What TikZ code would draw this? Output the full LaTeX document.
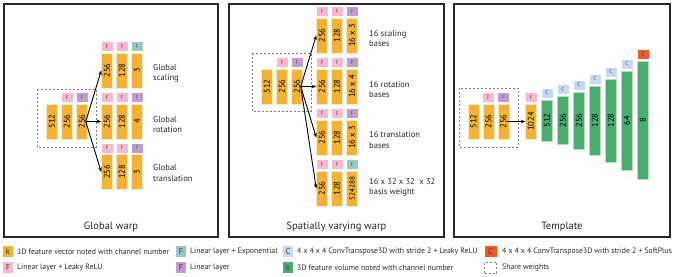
\documentclass[tikz,border=0pt]{standalone}
\usepackage{fontspec}
\setmainfont{PT Sans}
\usepackage{xcolor}
\usepackage{tikz}
\usetikzlibrary{arrows.meta, positioning}

\definecolor{barorange}{RGB}{244,178,52}
\definecolor{volgreen}{RGB}{74,172,110}
\definecolor{tagpink}{RGB}{248,184,212}
\definecolor{tagpurple}{RGB}{194,156,206}
\definecolor{tagteal}{RGB}{152,200,202}
\definecolor{tagblue}{RGB}{198,218,240}
\definecolor{tagred}{RGB}{240,88,40}

\newcommand{\vlab}[1]{\rotatebox{90}{#1}}

\begin{document}
\begin{tikzpicture}[x=1pt, y=-1pt,
    panel/.style={draw=black!85, line width=1.6pt},
    bar/.style={rectangle, fill=barorange, draw=white!70!barorange, line width=0.5pt,
                minimum width=11pt, minimum height=35pt, inner sep=0pt,
                font=\fontsize{8.5}{8.5}\selectfont},
    vol/.style={rectangle, fill=volgreen, draw=white!60!volgreen, line width=0.5pt,
                minimum width=11pt, inner sep=0pt, font=\fontsize{8.5}{8.5}\selectfont},
    tag/.style={rectangle, minimum width=11pt, minimum height=9pt, inner sep=0pt,
                font=\fontsize{5.5}{5.5}\selectfont, text=black!65},
    tagF/.style={tag, fill=tagpink},
    tagP/.style={tag, fill=tagpurple},
    tagT/.style={tag, fill=tagteal},
    tagC/.style={tag, fill=tagblue},
    tagR/.style={tag, fill=tagred, text=black!80},
    share/.style={draw=black!50, dash pattern=on 2pt off 2pt, line width=0.9pt},
    arrow/.style={-{Stealth[length=4.5pt, width=3.5pt]}, line width=0.9pt},
    note/.style={anchor=west, align=left, inner sep=0pt, text=black!85,
                 font=\fontsize{8.5}{10.5}\selectfont},
    title/.style={font=\fontsize{10.5}{10.5}\selectfont, text=black!85},
    swatch/.style={rectangle, minimum width=10pt, minimum height=11pt, inner sep=0pt,
                   font=\fontsize{8.5}{8.5}\selectfont, text=black!75},
    legend/.style={anchor=west, inner sep=0pt, text=black!85,
                   font=\fontsize{7.8}{7.8}\selectfont}
]
    \useasboundingbox (0,0) rectangle (675,276);

    % ── Panels ──
    \draw[panel] (4,4)   rectangle (218,237);
    \draw[panel] (229,4) rectangle (444,237);
    \draw[panel] (454,4) rectangle (670,237);
    \node[title] (gwtitle) at (111,227)   {Global warp};
    \node[title] (svtitle) at (336.5,227) {Spatially varying warp};
    \node[title] (tmtitle) at (562,227)   {Template};

    % ── Global warp: shared layers ──
    \node[bar] (gw1) at (52,121.5) {\vlab{512}};
    \node[bar] (gw2) at (67,121.5) {\vlab{256}};
    \node[bar] (gw3) at (82,121.5) {\vlab{256}};
    \node[tagF, above=1.5pt of gw2] (gw2t) {F};
    \node[tagP, above=1.5pt of gw3] (gw3t) {F};
    \draw[share] (37,89) rectangle (96,147);

    % scaling
    \node[bar] (gs1) at (107,70.5) {\vlab{256}};
    \node[bar] (gs2) at (122,70.5) {\vlab{128}};
    \node[bar] (gs3) at (137,70.5) {\vlab{3}};
    \node[tagF, above=1.5pt of gs1] (gs1t) {F};
    \node[tagF, above=1.5pt of gs2] (gs2t) {F};
    \node[tagT, above=1.5pt of gs3] (gs3t) {F};
    \node[note] (gsl) at (153,73.5) {Global\\scaling};

    % rotation
    \node[bar] (gr1) at (107,121.5) {\vlab{256}};
    \node[bar] (gr2) at (122,121.5) {\vlab{128}};
    \node[bar] (gr3) at (137,121.5) {\vlab{4}};
    \node[tagF, above=1.5pt of gr1] (gr1t) {F};
    \node[tagF, above=1.5pt of gr2] (gr2t) {F};
    \node[tagP, above=1.5pt of gr3] (gr3t) {F};
    \node[note] (grl) at (153,124.5) {Global\\rotation};

    % translation
    \node[bar] (gt1) at (107,172) {\vlab{256}};
    \node[bar] (gt2) at (122,172) {\vlab{128}};
    \node[bar] (gt3) at (137,172) {\vlab{3}};
    \node[tagF, above=1.5pt of gt1] (gt1t) {F};
    \node[tagF, above=1.5pt of gt2] (gt2t) {F};
    \node[tagP, above=1.5pt of gt3] (gt3t) {F};
    \node[note] (gtl) at (153,173) {Global\\translation};

    \draw[arrow] ([xshift=-2pt]gw3.east) -- (gs1.west);
    \draw[arrow] ([xshift=-2pt]gw3.east) -- (gr1.west);
    \draw[arrow] ([xshift=-2pt]gw3.east) -- (gt1.west);

    % ── Spatially varying warp: shared layers ──
    \node[bar] (sw1) at (267,86.5) {\vlab{512}};
    \node[bar] (sw2) at (282,86.5) {\vlab{256}};
    \node[bar] (sw3) at (297,86.5) {\vlab{256}};
    \node[tagF, above=1.5pt of sw2] (sw2t) {F};
    \node[tagP, above=1.5pt of sw3] (sw3t) {F};
    \draw[share] (252,53) rectangle (311,111);

    % scaling bases
    \node[bar] (ss1) at (322,35.5) {\vlab{256}};
    \node[bar] (ss2) at (337,35.5) {\vlab{128}};
    \node[bar] (ss3) at (352,35.5) {\vlab{16 x 3}};
    \node[tagF, above=1.5pt of ss1] (ss1t) {F};
    \node[tagF, above=1.5pt of ss2] (ss2t) {F};
    \node[tagP, above=1.5pt of ss3] (ss3t) {F};
    \node[note] (ssl) at (369,38.5) {16 scaling\\bases};

    % rotation bases
    \node[bar] (sr1) at (322,86.5) {\vlab{256}};
    \node[bar] (sr2) at (337,86.5) {\vlab{128}};
    \node[bar] (sr3) at (352,86.5) {\vlab{16 x 4}};
    \node[tagF, above=1.5pt of sr1] (sr1t) {F};
    \node[tagF, above=1.5pt of sr2] (sr2t) {F};
    \node[tagP, above=1.5pt of sr3] (sr3t) {F};
    \node[note] (srl) at (369,89.5) {16 rotation\\bases};

    % translation bases
    \node[bar] (st1) at (322,137.5) {\vlab{256}};
    \node[bar] (st2) at (337,137.5) {\vlab{128}};
    \node[bar] (st3) at (352,137.5) {\vlab{16 x 3}};
    \node[tagF, above=1.5pt of st1] (st1t) {F};
    \node[tagF, above=1.5pt of st2] (st2t) {F};
    \node[tagP, above=1.5pt of st3] (st3t) {F};
    \node[note] (stl) at (369,140) {16 translation\\bases};

    % basis weight
    \node[bar] (sb1) at (322,188.5) {\vlab{256}};
    \node[bar] (sb2) at (337,188.5) {\vlab{128}};
    \node[bar, font=\fontsize{7.2}{7.2}\selectfont] (sb3) at (352,188.5) {\vlab{524288}};
    \node[tagF, above=1.5pt of sb1] (sb1t) {F};
    \node[tagF, above=1.5pt of sb2] (sb2t) {F};
    \node[tagT, above=1.5pt of sb3] (sb3t) {F};
    \node[note] (sbl) at (369,187.5) {16 x 32 x 32 \ x 32\\basis weight};

    \draw[arrow] ([xshift=-2pt]sw3.east) -- (ss1.west);
    \draw[arrow] ([xshift=-2pt]sw3.east) -- (sr1.west);
    \draw[arrow] ([xshift=-2pt]sw3.east) -- (st1.west);
    \draw[arrow] ([xshift=-2pt]sw3.east) -- (sb1.west);

    % ── Template: shared layers ──
    \node[bar] (tp1) at (473.5,121.5) {\vlab{512}};
    \node[bar] (tp2) at (488.5,121.5) {\vlab{256}};
    \node[bar] (tp3) at (503.5,121.5) {\vlab{256}};
    \node[tagF, above=1.5pt of tp2] (tp2t) {F};
    \node[tagP, above=1.5pt of tp3] (tp3t) {F};
    \draw[share] (459,88) rectangle (518,147);

    \node[bar] (tp4) at (531,121.5) {\vlab{1024}};
    \node[tagF, above=1.5pt of tp4] (tp4t) {F};
    \draw[arrow] ([xshift=-2pt]tp3.east) -- (tp4.west);

    % volumes
    \node[vol, minimum height=41pt]  (tv1) at (547,120.5) {\vlab{512}};
    \node[vol, minimum height=48pt]  (tv2) at (563,120.5) {\vlab{256}};
    \node[vol, minimum height=57pt]  (tv3) at (579,120.5) {\vlab{256}};
    \node[vol, minimum height=69pt]  (tv4) at (595,120.5) {\vlab{128}};
    \node[vol, minimum height=83pt]  (tv5) at (611,120.5) {\vlab{128}};
    \node[vol, minimum height=99pt]  (tv6) at (627,120.5) {\vlab{64}};
    \node[vol, minimum height=118pt] (tv7) at (643,120.5) {\vlab{8}};
    \node[tagC, above=2pt of tv1] (tv1t) {C};
    \node[tagC, above=2pt of tv2] (tv2t) {C};
    \node[tagC, above=2pt of tv3] (tv3t) {C};
    \node[tagC, above=2pt of tv4] (tv4t) {C};
    \node[tagC, above=2pt of tv5] (tv5t) {C};
    \node[tagC, above=2pt of tv6] (tv6t) {C};
    \node[tagR, above=2pt of tv7] (tv7t) {C};

    % ── Legend ──
    \node[swatch, fill=barorange] (lk1) at (8,251.5) {k};
    \node[legend] (lk1t) at (17,251.5) {1D feature vector noted with channel number};
    \node[swatch, fill=tagpink] (lf1) at (8,267.5) {F};
    \node[legend] (lf1t) at (17,267.5) {Linear layer + Leaky ReLU};

    \node[swatch, fill=tagteal] (lf2) at (181,251.5) {F};
    \node[legend] (lf2t) at (190,251.5) {Linear layer + Exponential};
    \node[swatch, fill=tagpurple] (lf3) at (181,267.5) {F};
    \node[legend] (lf3t) at (190,267.5) {Linear layer};

    \node[swatch, fill=tagblue] (lc1) at (288,251.5) {C};
    \node[legend] (lc1t) at (297,251.5) {4 x 4 x 4 ConvTranspose3D with stride 2 + Leaky ReLU};
    \node[swatch, fill=volgreen] (lk2) at (288,267.5) {k};
    \node[legend] (lk2t) at (297,267.5) {3D feature volume noted with channel number};

    \node[swatch, fill=tagred, minimum width=12pt] (lc2) at (490.5,251.5) {C};
    \node[legend] (lc2t) at (502,251.5) {4 x 4 x 4 ConvTranspose3D with stride 2 + SoftPlus};
    \node[swatch, share, minimum width=12pt] (lsh) at (490.5,267.5) {};
    \node[legend] (lsht) at (502,267.5) {Share weights};
\end{tikzpicture}
\end{document}
